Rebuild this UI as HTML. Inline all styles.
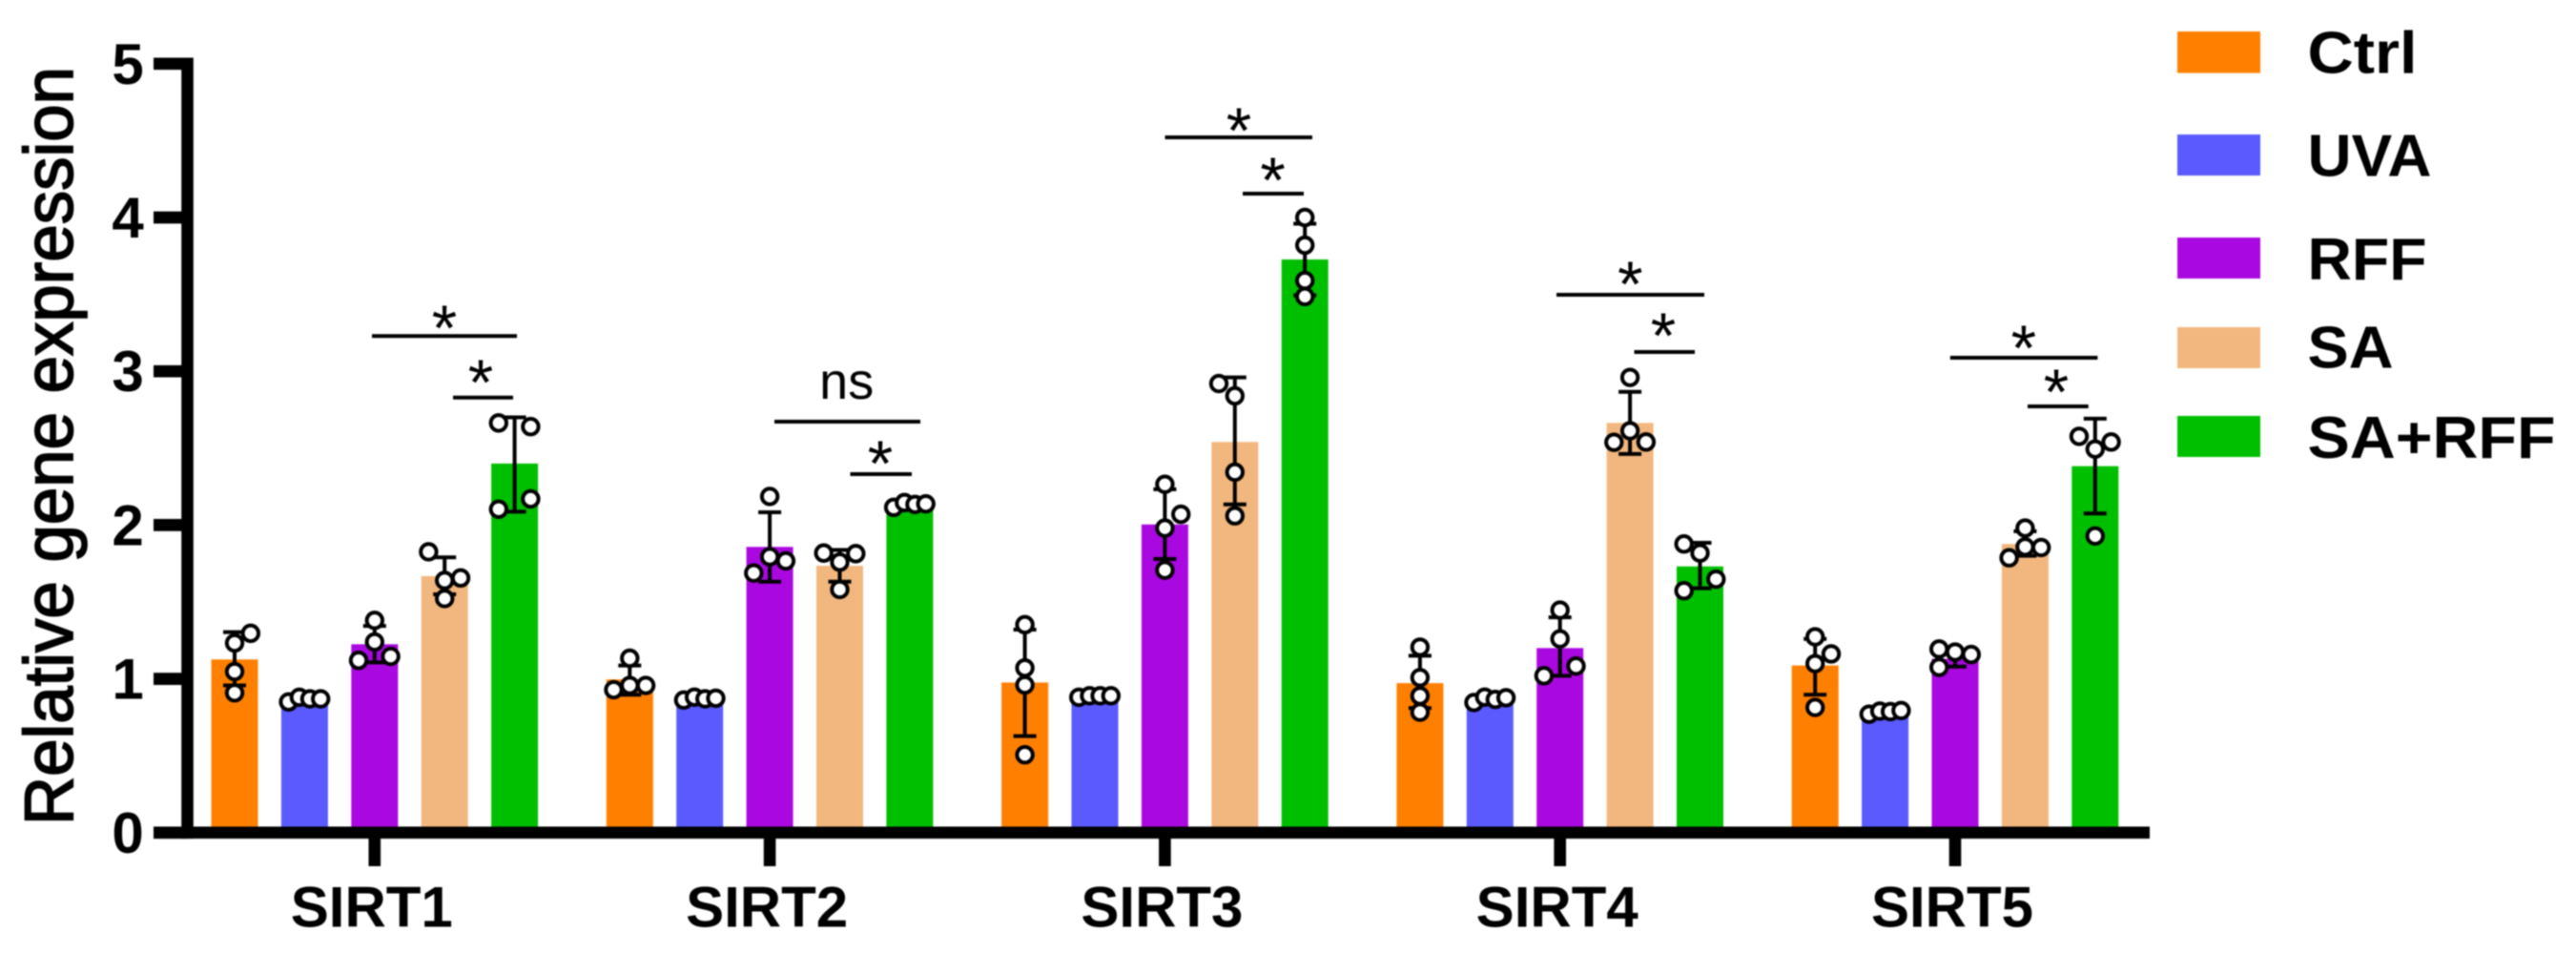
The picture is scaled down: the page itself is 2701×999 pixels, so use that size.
<!DOCTYPE html>
<html lang="en">
<head>
<meta charset="utf-8">
<title>Relative gene expression of SIRT1-5</title>
<style>
html,body{margin:0;padding:0;background:#fff;}
body{width:2701px;height:999px;overflow:hidden;}
svg{display:block;filter:blur(0.7px);}
text{font-family:"Liberation Sans",sans-serif;fill:#000;}
</style>
</head>
<body>
<svg id="chart" xmlns="http://www.w3.org/2000/svg" width="2701" height="999" viewBox="0 0 2701 999">
  <rect x="0" y="0" width="2701" height="999" fill="#fff"/>
  <text transform="translate(76,865) rotate(-90)" font-size="72" stroke="#000" stroke-width="1.8" textLength="795" lengthAdjust="spacingAndGlyphs">Relative gene expression</text>
  <g id="marks"></g>
  <g id="axes"></g>
  <g stroke="#000" stroke-width="4">
    <line x1="390" x2="542" y1="352.3" y2="352.3"/>
    <line x1="475" x2="538" y1="416.7" y2="416.7"/>
    <line x1="812" x2="965" y1="442" y2="442"/>
    <line x1="891.5" x2="956" y1="497" y2="497"/>
    <line x1="1221.5" x2="1376" y1="144" y2="144"/>
    <line x1="1303" x2="1367" y1="203" y2="203"/>
    <line x1="1632" x2="1787" y1="309" y2="309"/>
    <line x1="1713.5" x2="1777" y1="369" y2="369"/>
    <line x1="2044.8" x2="2199.4" y1="375" y2="375"/>
    <line x1="2126" x2="2189.7" y1="426" y2="426"/>
  </g>
  <g font-size="68">
    <text x="466" y="367" text-anchor="middle">*</text>
    <text x="504" y="424" text-anchor="middle">*</text>
    <text x="887.7" y="418" text-anchor="middle" font-size="54">ns</text>
    <text x="923" y="509" text-anchor="middle">*</text>
    <text x="1299" y="160" text-anchor="middle">*</text>
    <text x="1334.6" y="212" text-anchor="middle">*</text>
    <text x="1709.4" y="321" text-anchor="middle">*</text>
    <text x="1744" y="375" text-anchor="middle">*</text>
    <text x="2121.8" y="388" text-anchor="middle">*</text>
    <text x="2156" y="434" text-anchor="middle">*</text>
  </g>
  <g>
    <rect x="2283" y="33" width="87" height="43.5" fill="#FF8000"/>
    <text x="2419.5" y="76.5" font-size="62" font-weight="bold" textLength="115" lengthAdjust="spacingAndGlyphs">Ctrl</text>
    <rect x="2283" y="141" width="87" height="43" fill="#5A5AFF"/>
    <text x="2419.5" y="184.5" font-size="62" font-weight="bold" textLength="130" lengthAdjust="spacingAndGlyphs">UVA</text>
    <rect x="2283" y="249" width="87" height="43" fill="#AA08E0"/>
    <text x="2419.5" y="293" font-size="62" font-weight="bold" textLength="125" lengthAdjust="spacingAndGlyphs">RFF</text>
    <rect x="2283" y="343" width="87" height="43" fill="#F2B77E"/>
    <text x="2419.5" y="385.5" font-size="62" font-weight="bold" textLength="90" lengthAdjust="spacingAndGlyphs">SA</text>
    <rect x="2283" y="436" width="87" height="43" fill="#00BF00"/>
    <text x="2419.5" y="480" font-size="62" font-weight="bold" textLength="260" lengthAdjust="spacingAndGlyphs">SA+RFF</text>
  </g>
</svg>
<script>
const genes = ["SIRT1", "SIRT2", "SIRT3", "SIRT4", "SIRT5"];
const groups = ["Ctrl", "UVA", "RFF", "SA", "SA+RFF"];
const groupColors = ["#FF8000", "#5A5AFF", "#AA08E0", "#F2B77E", "#00BF00"];
const yTicks = [0, 1, 2, 3, 4, 5];

const ctrlMean = [1.126, 0.996, 0.976, 0.972, 1.087];
const uvaMean = [0.87, 0.87, 0.89, 0.87, 0.78];
const rffMean = [1.225, 1.858, 2.004, 1.2, 1.13];
const saMean = [1.668, 1.735, 2.54, 2.664, 1.877];
const saRffMean = [2.4, 2.13, 3.727, 1.731, 2.383];

const ctrlHigh = [1.304, 1.087, 1.32, 1.15, 1.26];
const uvaHigh = [0.89, 0.89, 0.9, 0.89, 0.8];
const rffHigh = [1.344, 2.083, 2.233, 1.4, 1.18];
const saHigh = [1.79, 1.838, 2.96, 2.866, 1.96];
const saRffHigh = [2.7, 2.15, 3.96, 1.885, 2.692];

const ctrlLow = [0.957, 0.897, 0.628, 0.81, 0.897];
const uvaLow = [0.85, 0.85, 0.88, 0.85, 0.76];
const rffLow = [1.107, 1.632, 1.779, 1.02, 1.08];
const saLow = [1.55, 1.632, 2.134, 2.462, 1.8];
const saRffLow = [2.087, 2.11, 3.494, 1.589, 2.075];

const ctrlPoints = [[1.296, 1.233, 1.047, 0.909], [1.134, 0.929, 0.957, 0.957], [1.352, 1.071, 0.96, 0.506], [1.206, 1.008, 0.889, 0.783], [1.273, 1.162, 1.099, 0.814]];
const uvaPoints = [[0.85, 0.88, 0.87, 0.87], [0.862, 0.881, 0.87, 0.874], [0.88, 0.89, 0.89, 0.89], [0.846, 0.881, 0.866, 0.877], [0.77, 0.79, 0.787, 0.794]];
const rffPoints = [[1.38, 1.24, 1.12, 1.146], [2.186, 1.794, 1.688, 1.767], [2.265, 2.07, 1.98, 1.707], [1.447, 1.26, 1.02, 1.083], [1.194, 1.174, 1.158, 1.075]];
const saPoints = [[1.826, 1.656, 1.64, 1.522], [1.818, 1.759, 1.814, 1.581], [2.92, 2.84, 2.344, 2.06], [2.96, 2.613, 2.538, 2.54], [1.98, 1.858, 1.854, 1.787]];
const saRffPoints = [[2.664, 2.64, 2.17, 2.103], [2.115, 2.146, 2.134, 2.138], [4.0, 3.82, 3.59, 3.486], [1.877, 1.818, 1.648, 1.573], [2.577, 2.54, 2.494, 1.929]];

// Ordinal swarm slot of each replicate (-1 left, 0 centre, 1 right), read per group, per gene.
const ctrlSlots = [[1, 0, 0, 0], [0, -1, 0, 1], [0, 0, 0, 0], [0, 0, 0, 0], [0, 1, 0, 0]];
const uvaSlots = [[-1, -0.33, 0.33, 1], [-1, -0.33, 0.33, 1], [-1, -0.33, 0.33, 1], [-1, -0.33, 0.33, 1], [-1, -0.33, 0.33, 1]];
const rffSlots = [[0, 0, -1, 1], [0, 0, -1, 1], [0, 1, 0, 0], [0, 0, -1, 1], [-1, 0, 1, -1]];
const saSlots = [[-1, 1, 0, 0], [-1, 0, 1, 0], [-1, 0, 0, 0], [0, 0, -1, 1], [0, 0, 1, -1]];
const saRffSlots = [[-1, 1, 1, -1], [-1, -0.33, 0.33, 1], [0, 0, 0, 0], [-1, 0, 1, -1], [-1, 1, 0, 0]];

const means = [ctrlMean, uvaMean, rffMean, saMean, saRffMean];
const highs = [ctrlHigh, uvaHigh, rffHigh, saHigh, saRffHigh];
const lows = [ctrlLow, uvaLow, rffLow, saLow, saRffLow];
const points = [ctrlPoints, uvaPoints, rffPoints, saPoints, saRffPoints];
const slots = [ctrlSlots, uvaSlots, rffSlots, saSlots, saRffSlots];

const SVG_NS = "http://www.w3.org/2000/svg";
const marks = document.getElementById("marks");
const axes = document.getElementById("axes");

function yScale(v) { return 872.8 - 161.2 * v; }
function geneX(i) { return 392.8 + 414.3 * i; }
function groupX(i, j) { return geneX(i) + (j - 2) * 73.4; }
function slug(s) { return s.toLowerCase().replace(/\+/g, "-"); }
function make(tag, parent) {
  const el = document.createElementNS(SVG_NS, tag);
  parent.appendChild(el);
  return el;
}
function setLine(el, x1, y1, x2, y2, width) {
  el.setAttribute("x1", x1);
  el.setAttribute("y1", y1);
  el.setAttribute("x2", x2);
  el.setAttribute("y2", y2);
  el.setAttribute("stroke", "#000");
  el.setAttribute("stroke-width", width);
}

genes.forEach(function (gene, i) {
  groups.forEach(function (group, j) {
    const cx = groupX(i, j);
    const bar = make("rect", marks);
    
    
    bar.setAttribute("x", cx - 24.5);
    bar.setAttribute("y", yScale(means[j][i]));
    bar.setAttribute("width", 49);
    bar.setAttribute("height", yScale(0) - yScale(means[j][i]));
    bar.setAttribute("fill", groupColors[j]);

    const stem = make("line", marks);
    
    
    setLine(stem, cx, yScale(highs[j][i]), cx, yScale(lows[j][i]), 4);

    const capTop = make("line", marks);
    
    
    setLine(capTop, cx - 12, yScale(highs[j][i]), cx + 12, yScale(highs[j][i]), 4);

    const capLow = make("line", marks);
    
    
    setLine(capLow, cx - 12, yScale(lows[j][i]), cx + 12, yScale(lows[j][i]), 4);

    points[j][i].forEach(function (value, k) {
      const dot = make("circle", marks);
      
      
      dot.setAttribute("cx", cx + slots[j][i][k] * 16.8);
      dot.setAttribute("cy", yScale(value));
      dot.setAttribute("r", 8.2);
      dot.setAttribute("fill", "#fff");
      dot.setAttribute("stroke", "#000");
      dot.setAttribute("stroke-width", 4);
    });
  });
});

const yAxisLine = make("line", axes);


setLine(yAxisLine, 196.5, yScale(5) - 6.3, 196.5, yScale(0) + 6.3, 12.6);

const xAxisLine = make("line", axes);


setLine(xAxisLine, 161, yScale(0), 2254, yScale(0), 12.7);

yTicks.forEach(function (tick) {
  const mark = make("line", axes);
  
  
  setLine(mark, 161, yScale(tick), 196, yScale(tick), 12.7);

  const label = make("text", axes);
  
  
  label.setAttribute("x", 134);
  label.setAttribute("y", yScale(tick) + 21);
  label.setAttribute("text-anchor", "middle");
  label.setAttribute("font-size", 60);
  label.setAttribute("font-weight", "bold");
  label.textContent = tick;
});

genes.forEach(function (gene, i) {
  const mark = make("line", axes);
  
  
  setLine(mark, geneX(i), yScale(0), geneX(i), 908, 12.6);

  const label = make("text", axes);
  
  
  label.setAttribute("x", geneX(i) - 3);
  label.setAttribute("y", 971.5);
  label.setAttribute("text-anchor", "middle");
  label.setAttribute("font-size", 60);
  label.setAttribute("font-weight", "bold");
  label.textContent = gene;
});
</script>
</body>
</html>
